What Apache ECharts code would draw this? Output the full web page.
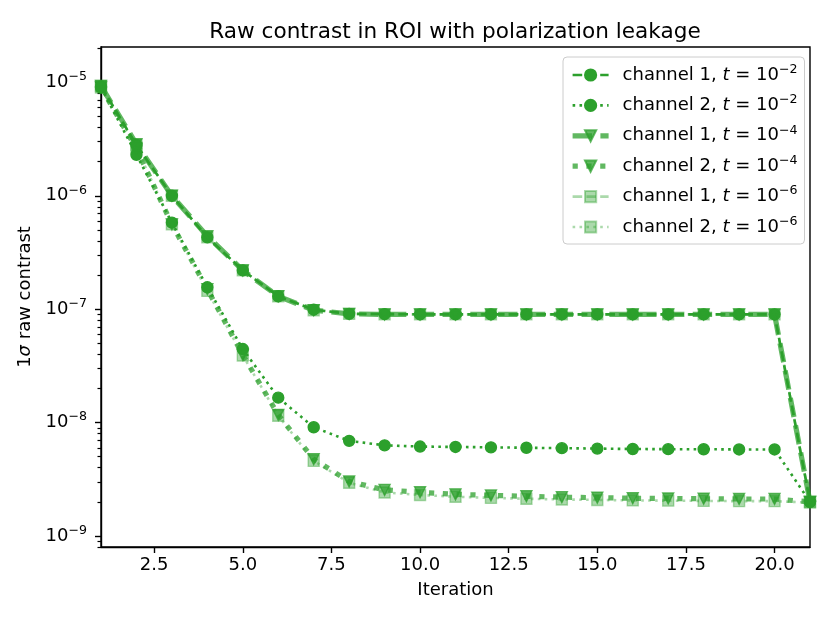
<!DOCTYPE html>
<html>
<head>
<meta charset="utf-8">
<title>Raw contrast in ROI with polarization leakage</title>
<script src="https://cdn.jsdelivr.net/npm/echarts@6/dist/echarts.min.js"></script>
<style>
html, body { margin: 0; padding: 0; background: #fff; }
#main { width: 830px; height: 623px; }
</style>
</head>
<body>
<div id="main"></div>
<script>
// iterations on the x axis
var iterations = [1, 2, 3, 4, 5, 6, 7, 8, 9, 10, 11, 12, 13, 14, 15, 16, 17, 18, 19, 20, 21];

// 1 sigma raw contrast
var ch1T2 = [9.2e-6, 2.8e-6, 1.0e-6, 4.3e-7, 2.2e-7, 1.3e-7, 9.9e-8, 9.1e-8, 9.05e-8, 9.0e-8, 9.0e-8,
             9.0e-8, 9.0e-8, 9.0e-8, 9.0e-8, 9.0e-8, 9.0e-8, 9.0e-8, 9.0e-8, 9.0e-8, 2.0e-9];
var ch2T2 = [9.0e-6, 2.3e-6, 5.8e-7, 1.56e-7, 4.45e-8, 1.66e-8, 9.1e-9, 6.9e-9, 6.3e-9, 6.15e-9, 6.1e-9,
             6.05e-9, 6.0e-9, 5.95e-9, 5.9e-9, 5.85e-9, 5.83e-9, 5.82e-9, 5.8e-9, 5.8e-9, 2.0e-9];
var ch1T4 = [9.3e-6, 2.85e-6, 1.0e-6, 4.4e-7, 2.2e-7, 1.3e-7, 9.8e-8, 9.1e-8, 9.0e-8, 9.0e-8, 9.0e-8,
             9.0e-8, 9.0e-8, 9.0e-8, 9.0e-8, 9.0e-8, 9.0e-8, 9.0e-8, 9.0e-8, 9.0e-8, 2.0e-9];
var ch2T4 = [9.0e-6, 2.6e-6, 5.6e-7, 1.5e-7, 3.95e-8, 1.17e-8, 4.75e-9, 3.03e-9, 2.55e-9, 2.43e-9, 2.33e-9,
             2.28e-9, 2.24e-9, 2.2e-9, 2.18e-9, 2.15e-9, 2.14e-9, 2.13e-9, 2.12e-9, 2.12e-9, 2.0e-9];
var ch1T6 = [9.3e-6, 2.8e-6, 1.0e-6, 4.3e-7, 2.2e-7, 1.3e-7, 9.8e-8, 9.1e-8, 9.0e-8, 9.0e-8, 9.0e-8,
             9.0e-8, 9.0e-8, 9.0e-8, 9.0e-8, 9.0e-8, 9.0e-8, 9.0e-8, 9.0e-8, 9.0e-8, 2.0e-9];
var ch2T6 = [9.0e-6, 2.65e-6, 5.6e-7, 1.45e-7, 3.9e-8, 1.15e-8, 4.6e-9, 2.95e-9, 2.42e-9, 2.3e-9, 2.22e-9,
             2.17e-9, 2.13e-9, 2.1e-9, 2.08e-9, 2.06e-9, 2.05e-9, 2.04e-9, 2.03e-9, 2.03e-9, 1.97e-9];

// legend labels: channel number and exponent of t
var seriesChannel = [1, 2, 1, 2, 1, 2];
var seriesExp = [2, 2, 4, 4, 6, 6];

// axis ticks
var xTicks = [2.5, 5, 7.5, 10, 12.5, 15, 17.5, 20];
var yMajorTicks = [1e-9, 1e-8, 1e-7, 1e-6, 1e-5];
var yMinorTicks = [];
for (var d = -10; d <= -5; d++) {
    for (var k = 2; k <= 9; k++) {
        var v = k * Math.pow(10, d);
        if (v > 7.9e-10 && v < 2.06e-5) yMinorTicks.push(v);
    }
}

var green = '44,160,44';
var font = 'DejaVu Sans';
var fs = 18;
var supRich = {
    sup: { fontSize: 12.6, lineHeight: 12, verticalAlign: 'top', fontFamily: font, color: '#000' },
    base: { fontSize: fs, lineHeight: 24, fontFamily: font, color: '#000' },
    it: { fontSize: fs, lineHeight: 24, fontStyle: 'italic', fontFamily: font, color: '#000' },
    pad: { fontSize: fs, lineHeight: 24, fontFamily: font, color: '#000', padding: [0, 0, 0, 9] }
};

var styles = [
    { dash: [9.6, 4.2], width: 2.6, symbol: 'circle', rot: 0, alpha: 1 },
    { dash: [2.6, 4.3], width: 2.6, symbol: 'circle', rot: 0, alpha: 1 },
    { dash: [19.4, 8.4], width: 5.2, symbol: 'triangle', rot: 180, alpha: 0.75 },
    { dash: [5.2, 8.6], width: 5.2, symbol: 'triangle', rot: 180, alpha: 0.75 },
    { dash: [9.6, 4.2], width: 2.6, symbol: 'rect', rot: 0, alpha: 0.4 },
    { dash: [2.6, 4.3], width: 2.6, symbol: 'rect', rot: 0, alpha: 0.4 }
];
var values = [ch1T2, ch2T2, ch1T4, ch2T4, ch1T6, ch2T6];

function seriesName(i) {
    return 'channel ' + seriesChannel[i] + ', t = 10^-' + seriesExp[i];
}

var series = values.map(function (vals, i) {
    var s = styles[i];
    var col = 'rgba(' + green + ',' + s.alpha + ')';
    return {
        name: seriesName(i),
        type: 'line',
        data: iterations.map(function (x, j) { return [x, vals[j]]; }),
        symbol: s.symbol,
        symbolSize: 11,
        symbolRotate: s.rot,
        showAllSymbol: true,
        clip: true,
        lineStyle: { color: col, width: s.width, type: s.dash, cap: 'butt' },
        itemStyle: { color: col, borderColor: col, borderWidth: 1.4 },
        emphasis: { disabled: true },
        z: 2 + i
    };
});

var legendLookup = {};
values.forEach(function (v, i) {
    legendLookup[seriesName(i)] = '{pad|channel ' + seriesChannel[i] + ', }{it|t}{base| = 10}{sup|\u2212' + seriesExp[i] + '}';
});

var chart = echarts.init(document.getElementById('main'));
chart.setOption({
    animation: false,
    backgroundColor: '#fff',
    title: {
        text: 'Raw contrast in ROI with polarization leakage',
        left: 450,
        textAlign: 'center',
        top: 16,
        textStyle: { fontFamily: font, fontSize: 21.6, fontWeight: 'normal', color: '#000' }
    },
    grid: {
        left: 101, right: 20, top: 47, bottom: 76,
        show: true, borderColor: '#000', borderWidth: 1.4, backgroundColor: 'transparent'
    },
    legend: {
        orient: 'vertical',
        left: 563,
        top: 57,
        itemWidth: 36,
        itemHeight: 14,
        itemGap: 9.4,
        padding: [6, 7, 8, 7],
        backgroundColor: 'rgba(255,255,255,0.8)',
        borderColor: '#cccccc',
        borderWidth: 1,
        borderRadius: 4,
        selectedMode: false,
        lineStyle: { width: 'inherit' },
        formatter: function (name) { return legendLookup[name]; },
        textStyle: { fontFamily: font, fontSize: fs, color: '#000', rich: supRich }
    },
    xAxis: {
        type: 'value',
        min: 1,
        max: 21,
        name: 'Iteration',
        nameLocation: 'middle',
        nameGap: 34,
        nameTextStyle: { fontFamily: font, fontSize: fs, color: '#000' },
        axisLine: { show: true, onZero: false, lineStyle: { color: '#000', width: 1.4 } },
        axisTick: { show: true, customValues: xTicks, length: 6, lineStyle: { color: '#000', width: 1.4 } },
        axisLabel: {
            customValues: xTicks,
            margin: 9,
            fontFamily: font, fontSize: fs, color: '#000',
            formatter: function (v) { return v.toFixed(1); }
        },
        splitLine: { show: false }
    },
    yAxis: [{
        type: 'log',
        logBase: 10,
        min: 8.0e-10,
        max: 2.05e-5,
        position: 'left',
        name: '1{it|\u03c3} raw contrast',
        nameLocation: 'middle',
        nameGap: 64,
        nameTextStyle: {
            fontFamily: font, fontSize: fs, color: '#000',
            rich: { it: { fontFamily: font, fontSize: fs, fontStyle: 'italic', color: '#000' } }
        },
        axisLine: { show: true, lineStyle: { color: '#000', width: 1.4 } },
        axisTick: { show: true, customValues: yMajorTicks, length: 6, lineStyle: { color: '#000', width: 1.4 } },
        axisLabel: {
            customValues: yMajorTicks,
            margin: 14,
            formatter: function (v) {
                var e = Math.round(Math.log(v) / Math.LN10);
                return '{base|10}{sup|\u2212' + (-e) + '}';
            },
            rich: supRich
        },
        splitLine: { show: false }
    }, {
        type: 'log',
        logBase: 10,
        min: 8.0e-10,
        max: 2.05e-5,
        position: 'left',
        axisLine: { show: false },
        axisTick: { show: true, customValues: yMinorTicks, length: 3.5, lineStyle: { color: '#000', width: 1.2 } },
        axisLabel: { show: false },
        splitLine: { show: false }
    }],
    series: series
});
</script>
</body>
</html>
